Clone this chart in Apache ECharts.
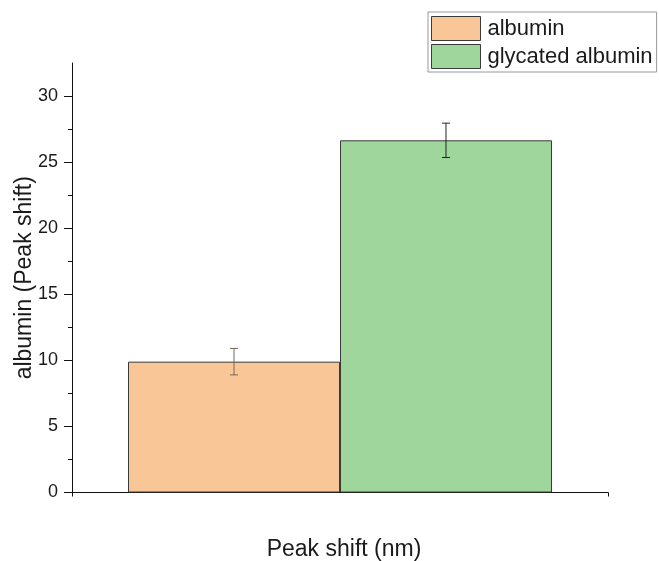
<!DOCTYPE html>
<html>
<head>
<meta charset="utf-8">
<script src="https://cdn.jsdelivr.net/npm/echarts@6/dist/echarts.min.js"></script>
<style>
  html, body { margin: 0; padding: 0; background: #fff; }
  #chart { width: 659px; height: 561px; }
</style>
</head>
<body>
<div id="chart"></div>
<script>
const seriesNames = ['albumin', 'glycated albumin']
const peakShift   = [9.9, 26.65]
const errors      = [1.0, 1.3]
const fillColors  = ['#f9c697', '#9fd69c']
const errColors   = ['#7a6655', '#222222']
const majorTicks  = [0, 5, 10, 15, 20, 25, 30]
const minorTicks  = [2.5, 7.5, 12.5, 17.5, 22.5, 27.5]
const yMax        = 32.5

const BAR_PCT = 0.3955
const font = 'Liberation Sans, Arial, sans-serif'

const chart = echarts.init(document.getElementById('chart'), null, { renderer: 'canvas' })

const barSeries = seriesNames.map((name, i) => ({
  name, type: 'bar',
  data: [peakShift[i]],
  barWidth: (BAR_PCT * 100) + '%',
  barGap: '0%',
  itemStyle: { color: fillColors[i], borderColor: '#3a3a3a', borderWidth: 1 },
  emphasis: { disabled: true }
}))

const errSeries = {
  type: 'custom',
  name: 'err',
  data: peakShift.map((v, i) => [0, v + errors[i], v - errors[i], i]),
  renderItem(params, api) {
    const idx = api.value(3)
    const center = api.coord([0, 0])[0]
    const band = api.size([1, 0])[0]
    const x = center + (idx === 0 ? -1 : 1) * band * BAR_PCT / 2
    const top = api.coord([0, api.value(1)])[1]
    const bot = api.coord([0, api.value(2)])[1]
    const cap = 4
    const style = { stroke: errColors[idx], lineWidth: 1 }
    return {
      type: 'group',
      children: [
        { type: 'line', shape: { x1: x, y1: top, x2: x, y2: bot }, style },
        { type: 'line', shape: { x1: x - cap, y1: top, x2: x + cap, y2: top }, style },
        { type: 'line', shape: { x1: x - cap, y1: bot, x2: x + cap, y2: bot }, style }
      ]
    }
  },
  z: 5,
  silent: true
}

const option = {
  backgroundColor: '#ffffff',
  animation: false,
  grid: { left: 72, right: 51, top: 63, bottom: 68.5, containLabel: false, outerBoundsMode: 'none' },
  legend: {
    orient: 'vertical',
    left: 428, top: 12,
    data: seriesNames,
    icon: 'rect',
    itemWidth: 49, itemHeight: 24, itemGap: 3,
    padding: [4, 4, 3, 3],
    borderColor: '#999', borderWidth: 1,
    textStyle: { fontFamily: font, fontSize: 22, color: '#1a1a1a', padding: [0, 0, 0, 2] },
    itemStyle: { borderColor: '#3a3a3a', borderWidth: 1 },
    selectedMode: false
  },
  xAxis: [
    {
      type: 'category', data: [''],
      name: 'Peak shift (nm)', nameLocation: 'middle', nameGap: 46,
      nameTextStyle: { fontFamily: font, fontSize: 23, color: '#1a1a1a', padding: [0, 0, 0, 8] },
      axisLine: { lineStyle: { color: '#111', width: 1 } },
      axisTick: { alignWithLabel: true, length: 8, lineStyle: { color: '#111' } },
      axisLabel: { show: false },
      splitLine: { show: false }
    },
    {
      type: 'value', position: 'bottom', min: 0, max: 1, interval: 1,
      axisLine: { show: false },
      axisTick: { length: 4, lineStyle: { color: '#111' } },
      axisLabel: { show: false },
      splitLine: { show: false }
    }
  ],
  yAxis: [
    {
      type: 'value', min: 0, max: yMax,
      name: 'albumin (Peak shift)', nameLocation: 'middle', nameGap: 36,
      nameMoveOverlap: false,
      nameTextStyle: { fontFamily: font, fontSize: 23, color: '#1a1a1a' },
      axisLine: { show: true, lineStyle: { color: '#111', width: 1 } },
      axisTick: { show: true, length: 8, customValues: majorTicks, lineStyle: { color: '#111' } },
      axisLabel: {
        fontFamily: font, fontSize: 18, color: '#1a1a1a', margin: 14,
        customValues: majorTicks
      },
      splitLine: { show: false }
    },
    {
      type: 'value', min: 0, max: yMax, position: 'left', offset: 0,
      axisLine: { show: false },
      axisTick: { show: true, length: 4, customValues: minorTicks, lineStyle: { color: '#111' } },
      axisLabel: { show: false },
      splitLine: { show: false }
    }
  ],
  series: [...barSeries, errSeries]
}

chart.setOption(option)
</script>
</body>
</html>
